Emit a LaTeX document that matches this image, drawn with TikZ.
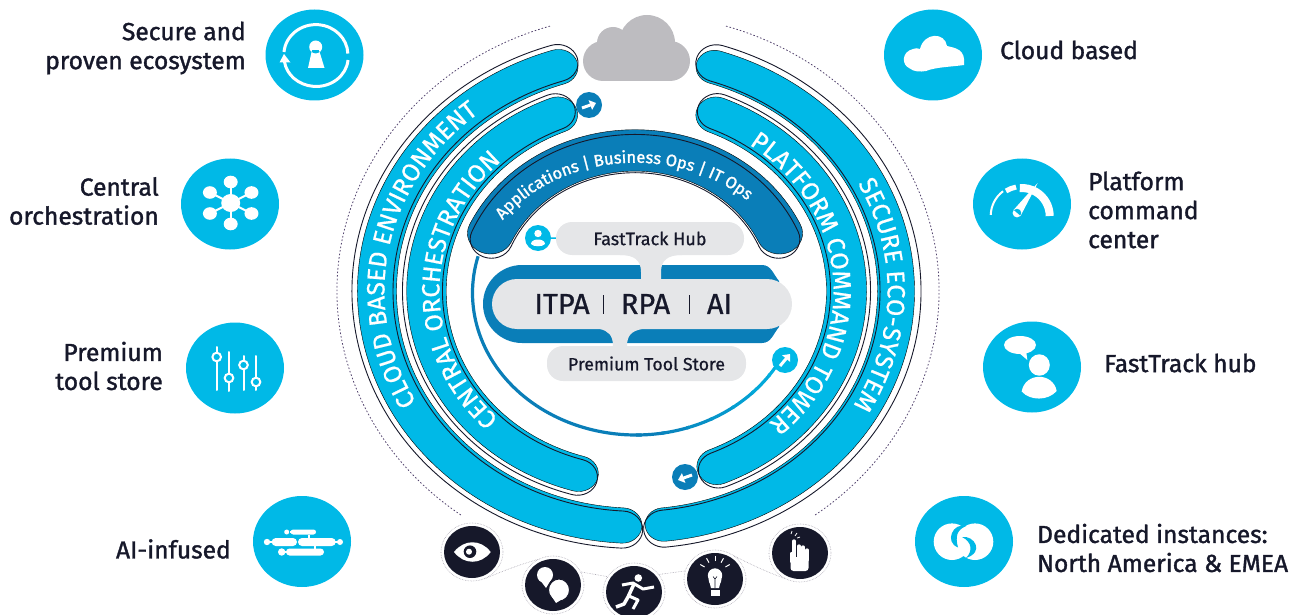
\documentclass[tikz,border=0pt]{standalone}
\usepackage{fontspec}
\usepackage{xcolor}
\usepackage{tikz}
\usetikzlibrary{shapes.geometric,arrows.meta,decorations.text}
\setmainfont{Fira Sans}
\newfontfamily\labelfont[FakeBold=1.4]{Fira Sans}
\newfontfamily\bandfont[FakeBold=0.7]{Fira Sans}
\definecolor{bandcyan}{HTML}{00B9E7}
\definecolor{bandblue}{HTML}{0A7EB8}
\definecolor{inkdark}{HTML}{16182A}
\definecolor{pillgray}{HTML}{E5E6E8}
\definecolor{cloudgray}{HTML}{BDBCC0}
\definecolor{ringdots}{HTML}{54456F}

\newcommand{\ringband}[5][cyanfill]{%
  \pgfmathsetmacro{\ro}{#2+#3/2}\pgfmathsetmacro{\ri}{#2-#3/2}\pgfmathsetmacro{\rc}{#3/2}
  \draw[#1] (#4:\ro) arc[start angle=#4, end angle=#5, radius=\ro]
    arc[start angle=#5, delta angle=180, radius=\rc]
    arc[start angle=#5, end angle=#4, radius=\ri]
    arc[start angle=#4+180, delta angle=180, radius=\rc] -- cycle;}
\newcommand{\ringtext}[5][.905]{%
  \pgfmathsetmacro{\ry}{#1*#2}
  \path[decorate, decoration={text along path, text align=center, text={|\color{white}#5|#4}}]
    (#3+75:#2 and \ry) arc[start angle=#3+75, end angle=#3-75, x radius=#2, y radius=\ry];}

\begin{document}
\begin{tikzpicture}[x=1pt, y=1pt,
  cyanfill/.style={fill=bandcyan},
  blackline/.style={draw=inkdark, line width=0.9pt},
  iconball/.style={ellipse, fill=bandcyan, minimum width=98pt, minimum height=91pt, inner sep=0pt},
  darkball/.style={ellipse, fill=inkdark, minimum width=56pt, minimum height=52pt, inner sep=0pt},
  haloball/.style={ellipse, draw=cloudgray!80!ringdots, densely dotted, line width=0.6pt, minimum width=62pt, minimum height=58pt, inner sep=0pt},
  halolink/.style={draw=cloudgray!80!ringdots, densely dotted, line width=0.6pt},
  smallball/.style={circle, minimum size=26pt, inner sep=0pt},
  labeltext/.style={font=\labelfont\fontsize{24.6}{29}\selectfont, text=inkdark, inner sep=0pt},
  pill/.style={rectangle, rounded corners=16pt, fill=pillgray, text=inkdark, inner sep=0pt},
  whiteicon/.style={fill=white, draw=none},
  arrowtip/.style={white, line width=3pt, -{Triangle[width=10pt,length=6pt]}}
]
\useasboundingbox (0,0) rectangle (1309,-615);

\draw[ringdots, line width=0.8pt, dash pattern=on 1.6pt off 2pt] (638,-291) ++(107:301 and 277) arc[start angle=107, end angle=234, x radius=301, y radius=277];
\draw[ringdots, line width=0.8pt, dash pattern=on 1.6pt off 2pt] (638,-291) ++(73:301 and 277) arc[start angle=73, end angle=-54, x radius=301, y radius=277];

\begin{scope}[shift={(636.5,-291)}, yscale=.905]
  \ringband{259.5}{39}{107.5}{266.9}
  \ringband{259.5}{37}{-84}{72.5}
  \ringband{210}{39.5}{112}{254}
  \ringband{210}{40}{-67.5}{67.8}
  \ringband[blackline]{264}{41}{107.4}{266.9}
  \ringband[blackline]{264}{41}{-84}{72.4}
  \ringband[blackline]{214}{40}{112.3}{254}
  \ringband[blackline]{214}{40}{-67.5}{67.8}
\end{scope}

\begin{scope}[shift={(636.5,-291)}]
  \ringtext{252}{169.5}{CLOUD BASED ENVIRONMENT}{\bandfont\fontsize{25}{26}\selectfont}
  \ringtext{197}{179.5}{CENTRAL ORCHESTRATION}{\bandfont\fontsize{25}{26}\selectfont}
  \ringtext{197}{3.5}{PLATFORM COMMAND TOWER}{\bandfont\fontsize{25}{26}\selectfont}
  \ringtext{251}{-1}{SECURE ECO-SYSTEM}{\bandfont\fontsize{25}{26}\selectfont}
\end{scope}

\begin{scope}[shift={(636,-293)}]
  \draw[bandblue, line width=3.2pt] (165:163.5 and 142) arc[start angle=165, end angle=272, x radius=163.5, y radius=142];
  \foreach \a [evaluate=\a as \m using {(\a-270)*100/64}] in {270,279,...,324}
    \draw[bandcyan!\m!bandblue, line width=3.2pt] (\a:163.5 and 142) arc[start angle=\a, delta angle=10, x radius=163.5, y radius=142];
\end{scope}

\begin{scope}[shift={(635,-294)}, yscale=.9]
  \ringband[fill=bandblue]{159.5}{46}{25}{155}
  \ringband[blackline]{156}{42.5}{23}{157}
\end{scope}
\begin{scope}[shift={(635,-294)}]
  \ringtext[.82]{160}{96}{Applications {\textbar} Business Ops {\textbar} IT Ops}{\labelfont\fontsize{16.5}{18}\selectfont}
\end{scope}

\fill[cloudgray] (603,-61) circle (20) (670,-61) circle (20) (603,-41) rectangle (670,-81)
  (647,-43) circle (28) (613,-43) circle (16);

\fill[bandblue] (522,-265) -- (762,-265) to[out=0, in=130] (779,-281) -- (779,-327) to[out=230, in=0] (762,-343)
  -- (522,-343) arc[start angle=270, end angle=90, x radius=39, y radius=39] -- cycle;
\node[pill, rounded corners=25pt, minimum width=300pt, minimum height=50pt] (corepill) at (642,-304) {};
\node[pill, minimum width=188pt, minimum height=33pt, font=\bandfont\fontsize{18}{18}\selectfont] (hubpill) at (650,-238.5) {FastTrack Hub};
\node[pill, minimum width=199pt, minimum height=35pt, font=\bandfont\fontsize{17.7}{18}\selectfont] (storepill) at (646.5,-363.5) {Premium Tool Store};
\fill[pillgray] (620,-255) .. controls (634,-255) and (641,-260) .. (641,-272) -- (641,-280) -- (661,-280) -- (661,-272) .. controls (661,-260) and (668,-255) .. (682,-255) -- cycle;
\fill[pillgray] (600,-329) .. controls (608,-331) and (613,-335) .. (613,-346) -- (627,-346) .. controls (627,-335) and (632,-331) .. (642,-329) -- cycle;
\node[font=\bandfont\fontsize{29}{30}\selectfont, text=inkdark, inner sep=0pt] (itpatext) at (562,-304) {ITPA};
\node[font=\bandfont\fontsize{29}{30}\selectfont, text=inkdark, inner sep=0pt] (rpatext) at (645.5,-304) {RPA};
\node[font=\bandfont\fontsize{29}{30}\selectfont, text=inkdark, inner sep=0pt] (aitext) at (719.5,-304) {AI};
\draw[inkdark, line width=0.9pt] (603,-295) -- (603,-314) (689,-295) -- (689,-314);

\node[smallball, fill=bandcyan] (personball) at (538,-238) {};
\draw[bandcyan, line width=1.5pt] (personball) -- (hubpill);
\fill[white] (538,-233.5) circle (3.7);
\fill[white] (531,-244) .. controls (531,-238) and (545,-238) .. (545,-244) .. controls (543,-247) and (533,-247) .. (531,-244) -- cycle;
\node[smallball, fill=bandblue] (toparrow) at (589,-105) {};
\draw[arrowtip] (582,-108) -- (596,-103);
\node[smallball, fill=bandblue] (lowarrow) at (685,-477) {};
\draw[arrowtip] (692,-475) -- (678,-480);
\node[smallball, fill=bandcyan] (rightarrow) at (785,-360) {};
\draw[arrowtip] (780,-366) -- (790,-354);

\node[iconball] (secureball) at (314.5,-55) {};
\node[iconball] (centralball) at (230,-204) {};
\node[iconball] (premiumball) at (235,-368) {};
\node[iconball] (aiball) at (302,-541.5) {};
\node[iconball] (cloudball) at (933,-55) {};
\node[iconball] (platformball) at (1022,-204) {};
\node[iconball] (hubball) at (1032,-367) {};
\node[iconball] (dedicatedball) at (964,-541.5) {};

\draw[white, line width=3pt] (284,-52) arc[start angle=175, end angle=2, x radius=32, y radius=30];
\draw[white, line width=3pt] (348,-60) arc[start angle=-5, end angle=-172, x radius=32, y radius=29];
\fill[white] (279.5,-62.5) -- (290.5,-62.5) -- (284,-54) -- cycle;
\fill[white] (315.7,-47) circle (6.5) (312,-50) -- (319,-50) -- (324.5,-68) -- (308,-68) -- cycle;

\foreach \a in {90,30,-30,-90,-150,150} {
  \draw[white, line width=2pt] (230.7,-203) -- ++(\a:24 and 21);
  \fill[white] (230.7,-203) ++(\a:24 and 21) ellipse (7 and 6.3);
}
\fill[white] (230.7,-203) ellipse (9.5 and 9);

\foreach \x/\t/\b/\k in {216.7/347/390/357, 229/352/391/378, 243.5/356/390/365, 256/356/390/382} {
  \draw[white, line width=2pt, line cap=round] (\x,-\t) -- (\x,-\b);
  \draw[white, line width=2pt, fill=bandcyan] (\x,-\k) circle (4.3);
}

\fill[white, rounded corners=2.5pt] (290.7,-529.5) rectangle (316,-534.5);
\fill[white, rounded corners=4pt] (271.7,-538) rectangle (297,-546);
\fill[white, rounded corners=4pt] (298,-538) rectangle (335.7,-546);
\fill[white, rounded corners=3.5pt] (286,-548.5) rectangle (324,-555.5);
\fill[white] (286.7,-532) circle (2.5) (267,-542) circle (3.2) (340,-542) circle (3) (281.7,-552) circle (3.7);
\draw[white, line width=1.5pt] (290,-532) -- (292,-532) (268,-542) -- (273,-542) (335,-542) -- (339,-542) (283,-552) -- (287,-552) (309,-535) -- (309,-538) (315,-546) -- (315,-549);

\fill[whiteicon] (909,-68) .. controls (902,-65) and (901,-52) .. (913,-49) .. controls (915,-48) and (918,-48) .. (920,-49)
  .. controls (924,-32) and (945,-32) .. (947,-46) .. controls (955,-48) and (966,-49) .. (964,-65)
  .. controls (950,-67) and (936,-67) .. (926,-71) .. controls (920,-72) and (914,-72) .. (909,-68) -- cycle;

\draw[white, line width=8pt] (1021.7,-216) ++(0:28) arc[start angle=0, end angle=94, radius=28];
\draw[white, line width=5pt] (1021.7,-216) ++(101:29.5) arc[start angle=101, end angle=122, radius=29.5];
\draw[white, line width=2pt] (1021.7,-216) ++(127:31) arc[start angle=127, end angle=178, radius=31];
\fill[white] (1017,-213) circle (4.4) (1013.5,-210) -- (1037.7,-183) -- (1020.5,-216) -- cycle;

\fill[white] (1020,-345) ellipse (16 and 9) (1018,-352) -- (1027.3,-360) -- (1026,-350) -- cycle;
\fill[white] (1039.3,-365) ellipse (10.5 and 10.7);
\fill[white] (1021.7,-391.5) .. controls (1025,-372) and (1053,-372) .. (1056.7,-391) .. controls (1048,-401) and (1030,-401) .. (1021.7,-391.5) -- cycle;

\fill[white] (952,-541.7) circle (18.3) (975,-541.7) circle (18.3);
\fill[bandcyan] (966,-526) .. controls (953,-522) and (944,-542) .. (958,-547.5) .. controls (955,-536) and (957,-530) .. (966,-526) -- cycle;
\fill[bandcyan] (962,-537) .. controls (974,-535) and (985,-552) .. (966,-558) .. controls (973,-551) and (972,-542) .. (962,-537) -- cycle;

\node[haloball] (eyehalo) at (472,-552) {};
\node[haloball] (bubblehalo) at (553,-585) {};
\node[haloball] (runhalo) at (634,-592) {};
\node[haloball] (bulbhalo) at (715,-579) {};
\node[haloball] (handhalo) at (800,-553) {};
\node[darkball] (eyeball) at (472,-552) {};
\node[darkball] (bubbleball) at (553,-585) {};
\node[darkball] (runball) at (634,-592) {};
\node[darkball] (bulbball) at (715,-579) {};
\node[darkball] (handball) at (800,-553) {};
\draw[halolink] (eyehalo.-65) to[bend left=3] (bubblehalo.120);
\draw[halolink] (bubblehalo.25) -- (runhalo.150);
\draw[halolink] (runhalo.35) -- (bulbhalo.165);
\draw[halolink] (bulbhalo.50) to[bend right=3] (handhalo.240);

\fill[white] (454,-552) .. controls (464,-539) and (481,-539) .. (490.7,-552) .. controls (481,-565) and (464,-565) .. (454,-552) -- cycle;
\fill[inkdark] (470,-551.7) circle (6.3);
\fill[white] (469,-551.7) circle (3);

\fill[white] (545,-575) circle (8) (540,-580) -- (546,-588) -- (552,-578) -- cycle;
\draw[inkdark, line width=1pt, fill=white] (559,-590) ellipse (10.5 and 11);
\fill[white] (552,-597) -- (556,-603) -- (564,-598) -- cycle;

\fill[white] (638.3,-578) circle (3.8);
\draw[white, line width=3pt, line join=round] (622,-585) -- (633,-583) -- (643,-589) -- (654,-587);
\draw[white, line width=3.5pt, line join=round] (634,-584) -- (628,-597) -- (624,-604) -- (616,-607);
\draw[white, line width=3pt, line join=round] (629,-596) -- (638,-600) -- (633,-609);

\foreach \a in {30,60,90,120,150}
  \draw[white, line width=1pt] (715,-573) ++(\a:12) -- ++(\a:5);
\fill[white] (715,-575.5) circle (7.2) (708.5,-579) .. controls (709,-584) and (711,-584) .. (711,-588) -- (719,-588) .. controls (719,-584) and (721,-584) .. (721.5,-579) -- cycle;
\fill[white] (710.5,-590) rectangle (719.5,-595.5);
\draw[inkdark, line width=0.6pt] (715,-588) -- (715,-579) (713,-576.5) -- (715,-579) -- (717,-576.5);

\fill[white, rounded corners=3pt] (790.5,-557) rectangle (808.5,-571);
\draw[white, line width=3.3pt, line cap=round] (794,-541) -- (794,-560) (799,-546) -- (799,-560) (803,-547) -- (803,-560) (807,-550) -- (807,-560);
\draw[white, line width=2.4pt, line cap=round] (791.5,-553) -- (791.5,-562);
\draw[white, line width=0.8pt] (795,-536) -- (797,-533) (797,-538) -- (800,-537) (791,-534) -- (792,-531);

\node[labeltext, anchor=east, align=right] (securelabel) at (246,-48) {Secure and\\proven ecosystem};
\node[labeltext, anchor=east, align=right] (centrallabel) at (159,-201) {Central\\orchestration};
\node[labeltext, anchor=east, align=right] (premiumlabel) at (163,-366) {Premium\\tool store};
\node[labeltext, anchor=east] (ailabel) at (231,-549) {AI-infused};
\node[labeltext, anchor=west] (cloudlabel) at (1000,-50) {Cloud based};
\node[labeltext, anchor=west, align=left] (platformlabel) at (1088,-210) {Platform\\command\\center};
\node[labeltext, anchor=west] (hublabel) at (1104,-363) {FastTrack hub};
\node[labeltext, anchor=west, align=left] (dedicatedlabel) at (1037,-548) {Dedicated instances:\\North America \& EMEA};
\end{tikzpicture}
\end{document}
